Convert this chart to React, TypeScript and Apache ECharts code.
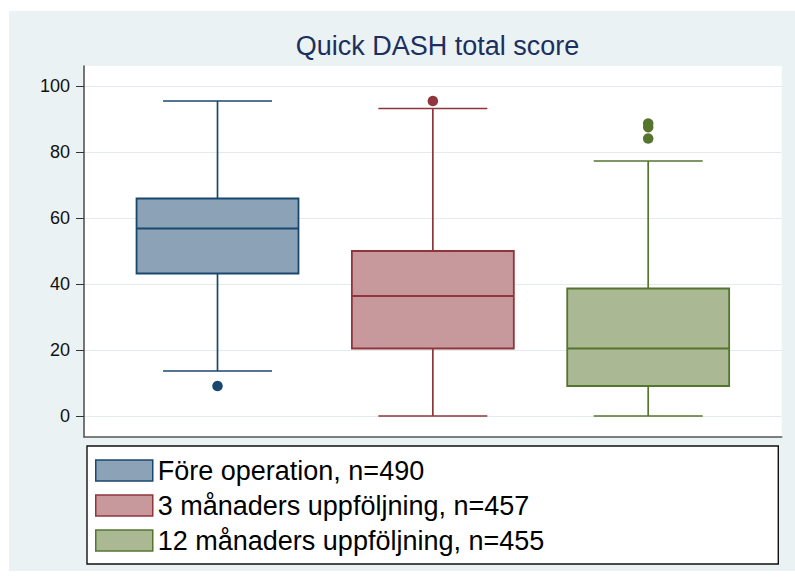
import React, { useEffect, useRef } from 'react';
import * as echarts from 'echarts';

// ---- data ----
const groupNames = [
  'Före operation, n=490',
  '3 månaders uppföljning, n=457',
  '12 månaders uppföljning, n=455',
];
const groupPositions = [1, 2, 3];
const whiskerLow = [13.64, 0, 0];
const quartile1 = [43.18, 20.45, 9.09];
const medians = [56.82, 36.36, 20.45];
const quartile3 = [65.91, 50, 38.64];
const whiskerHigh = [95.45, 93.18, 77.27];
const outliers = [[9.09], [95.45], [88.64, 87.5, 84.09]];
const yTicks = [0, 20, 40, 60, 80, 100];
const titleText = 'Quick DASH total score';

// ---- styles ----
const strokeColors = ['#1a476f', '#90353b', '#55752f'];
const fillColors = ['#8ca3b7', '#c8999c', '#aab994'];
const FONT = '"Liberation Sans", Arial, Helvetica, sans-serif';
const BOX_W = 0.752;
const CAP_W = 0.506;

export default function App() {
  const ref = useRef<HTMLDivElement>(null);

  useEffect(() => {
    document.body.style.margin = '0';
    const chart = echarts.init(ref.current!, undefined, { renderer: 'svg' });

    const boxSeries = groupNames.map((name, i) => ({
      type: 'custom',
      name,
      xAxisIndex: 1,
      yAxisIndex: 1,
      clip: false,
      z: 3,
      data: [[groupPositions[i], whiskerLow[i], quartile1[i], medians[i], quartile3[i], whiskerHigh[i]]],
      renderItem: (params: any, api: any) => {
        const x = api.value(0);
        const lo = api.coord([x, api.value(1)]);
        const q1 = api.coord([x, api.value(2)]);
        const md = api.coord([x, api.value(3)]);
        const q3 = api.coord([x, api.value(4)]);
        const hi = api.coord([x, api.value(5)]);
        const bw = api.size([BOX_W, 0])[0];
        const cw = api.size([CAP_W, 0])[0];
        const cx = lo[0];
        const lineStyle = { stroke: strokeColors[i], lineWidth: 1.7 };
        return {
          type: 'group',
          children: [
            { type: 'line', shape: { x1: cx, y1: q3[1], x2: cx, y2: hi[1] }, style: lineStyle },
            { type: 'line', shape: { x1: cx, y1: q1[1], x2: cx, y2: lo[1] }, style: lineStyle },
            { type: 'line', shape: { x1: cx - cw / 2, y1: hi[1], x2: cx + cw / 2, y2: hi[1] }, style: lineStyle },
            { type: 'line', shape: { x1: cx - cw / 2, y1: lo[1], x2: cx + cw / 2, y2: lo[1] }, style: lineStyle },
            {
              type: 'rect',
              shape: { x: cx - bw / 2, y: q3[1], width: bw, height: q1[1] - q3[1] },
              style: { fill: fillColors[i], stroke: strokeColors[i], lineWidth: 1.8 },
            },
            { type: 'line', shape: { x1: cx - bw / 2, y1: md[1], x2: cx + bw / 2, y2: md[1] }, style: { stroke: strokeColors[i], lineWidth: 1.8 } },
          ],
        };
      },
    }));

    const outlierSeries = groupNames.map((name, i) => ({
      type: 'scatter',
      name,
      xAxisIndex: 1,
      yAxisIndex: 1,
      symbol: 'circle',
      symbolSize: 10.5,
      z: 4,
      itemStyle: { color: strokeColors[i], opacity: 1 },
      data: outliers[i].map((v) => [groupPositions[i], v]),
    }));

    chart.setOption({
      animation: false,
      backgroundColor: '#ffffff',
      textStyle: { fontFamily: FONT },
      title: {
        text: titleText,
        left: 432.5,
        top: 27,
        textAlign: 'center',
        textStyle: { fontFamily: FONT, fontSize: 27, fontWeight: 'normal', color: '#1c2f5e' },
      },
      graphic: [
        { type: 'rect', z: -10, shape: { x: 9, y: 11, width: 786, height: 560 }, style: { fill: '#eaf2f3' } },
        { type: 'rect', z: -10, shape: { x: 84, y: 66, width: 697.7, height: 370.7 }, style: { fill: '#ffffff' } },
        {
          type: 'rect',
          z: -10,
          shape: { x: 87, y: 446, width: 691.3, height: 118 },
          style: { fill: '#ffffff', stroke: '#111111', lineWidth: 1.4 },
        },
      ],
      grid: [
        { left: 84, top: 66, width: 697.7, height: 370.7, show: false },
        { left: 84, top: 86, width: 697.7, height: 330, show: false },
      ],
      xAxis: [
        {
          type: 'value',
          gridIndex: 0,
          min: 0,
          max: 1,
          axisLine: { show: true, lineStyle: { color: '#555555', width: 1.6 } },
          axisTick: { show: false },
          axisLabel: { show: false },
          splitLine: { show: false },
        },
        {
          type: 'value',
          gridIndex: 1,
          min: 0.38,
          max: 3.62,
          show: false,
          splitLine: { show: false },
        },
      ],
      yAxis: [
        {
          type: 'value',
          gridIndex: 0,
          min: 0,
          max: 1,
          axisLine: { show: true, lineStyle: { color: '#555555', width: 1.6 } },
          axisTick: { show: false },
          axisLabel: { show: false },
          splitLine: { show: false },
        },
        {
          type: 'value',
          gridIndex: 1,
          min: yTicks[0],
          max: yTicks[yTicks.length - 1],
          interval: yTicks[1] - yTicks[0],
          axisLine: { show: false },
          axisTick: { show: true, length: 8, lineStyle: { color: '#333333', width: 1 } },
          axisLabel: { margin: 14, fontSize: 18, color: '#111111', fontFamily: FONT },
          splitLine: { show: true, lineStyle: { color: '#e2ebee', width: 1.2 } },
        },
      ],
      legend: {
        orient: 'vertical',
        left: 95,
        top: 457,
        padding: 0,
        itemWidth: 57,
        itemHeight: 21,
        itemGap: 8,
        selectedMode: false,
        textStyle: { fontFamily: FONT, fontSize: 27, color: '#000000', lineHeight: 21 },
        data: groupNames.map((name, i) => ({
          name,
          icon: 'rect',
          itemStyle: { color: fillColors[i], borderColor: strokeColors[i], borderWidth: 1.5 },
        })),
      },
      series: [...boxSeries, ...outlierSeries],
    });

    return () => chart.dispose();
  }, []);

  return <div ref={ref} style={{ width: 795, height: 581 }} />;
}
